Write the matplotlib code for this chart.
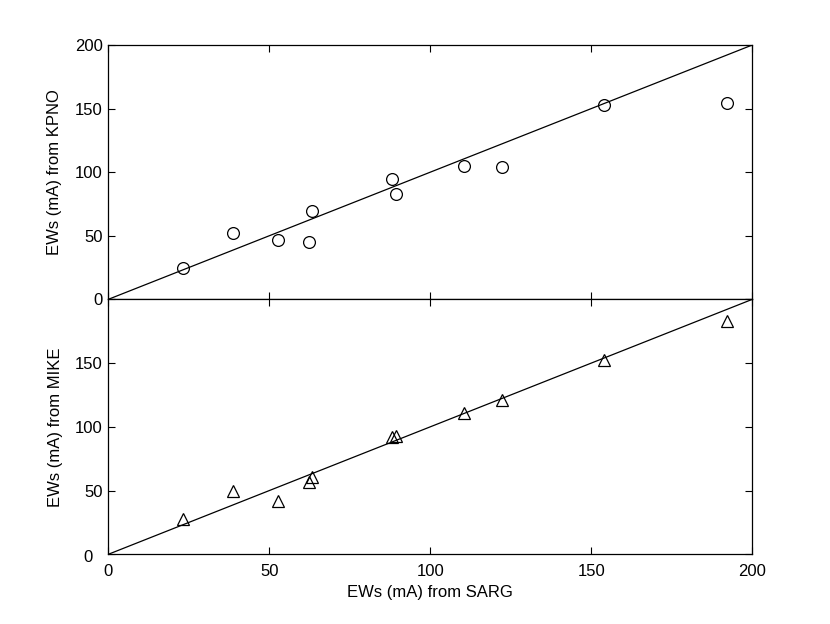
import numpy as np
import matplotlib.pyplot as plt
from matplotlib.transforms import ScaledTranslation

plt.rcParams['font.family'] = ['Liberation Sans', 'DejaVu Sans']
plt.rcParams['font.size'] = 12

# EWs from SARG (x) vs KPNO (top) and MIKE (bottom)
sarg = [23.3, 38.8, 52.6, 62.3, 63.2, 88.2, 89.4, 110.6, 122.2, 154.0, 192.0]
kpno = [24.8, 52.4, 46.9, 44.8, 69.2, 94.4, 82.8, 105.1, 103.8, 152.8, 154.4]
mike = [27.5, 49.6, 42.1, 56.5, 60.4, 91.8, 92.8, 111.1, 121.0, 152.6, 183.2]
one_to_one = [0, 200]

fig = plt.figure(figsize=(8.3, 6.24), dpi=100)
ax1 = fig.add_axes([0.1305, 0.5203, 0.7759, 0.4076])
ax2 = fig.add_axes([0.1305, 0.1117, 0.7759, 0.4086], sharex=ax1)

ax1.plot(one_to_one, one_to_one, color='black', lw=0.9)
ax1.plot(sarg, kpno, 'o', mfc='none', mec='black', ms=8.5, mew=0.9)
ax2.plot(one_to_one, one_to_one, color='black', lw=0.9)
ax2.plot(sarg, mike, '^', mfc='none', mec='black', ms=9, mew=0.9)

for ax in (ax1, ax2):
    ax.set_xlim(0, 200)
    ax.set_ylim(0, 200)
    ax.set_xticks([0, 50, 100, 150, 200])
    ax.set_yticks([0, 50, 100, 150, 200])
    ax.tick_params(direction='in', top=True, right=True, length=5, width=0.8,
                   labelsize=12)
    ax.tick_params(axis='y', pad=4)
    ax.tick_params(axis='x', pad=7)
    for s in ax.spines.values():
        s.set_linewidth(0.9)

ax1.tick_params(labelbottom=False)
ax2.set_yticklabels(['0', '50', '100', '150', ''])

# bottom panel's 0 sits a little further left, out of the way of the x 0
lab0 = ax2.yaxis.get_major_ticks()[0].label1
lab0.set_transform(lab0.get_transform() + ScaledTranslation(-0.1, -0.02, fig.dpi_scale_trans))

ax1.set_ylabel('EWs (mA) from KPNO', fontsize=12, labelpad=9)
ax2.set_ylabel('EWs (mA) from MIKE', fontsize=12, labelpad=9)
ax2.set_xlabel('EWs (mA) from SARG', fontsize=12, labelpad=4)

fig.savefig('out.png', dpi=100)
